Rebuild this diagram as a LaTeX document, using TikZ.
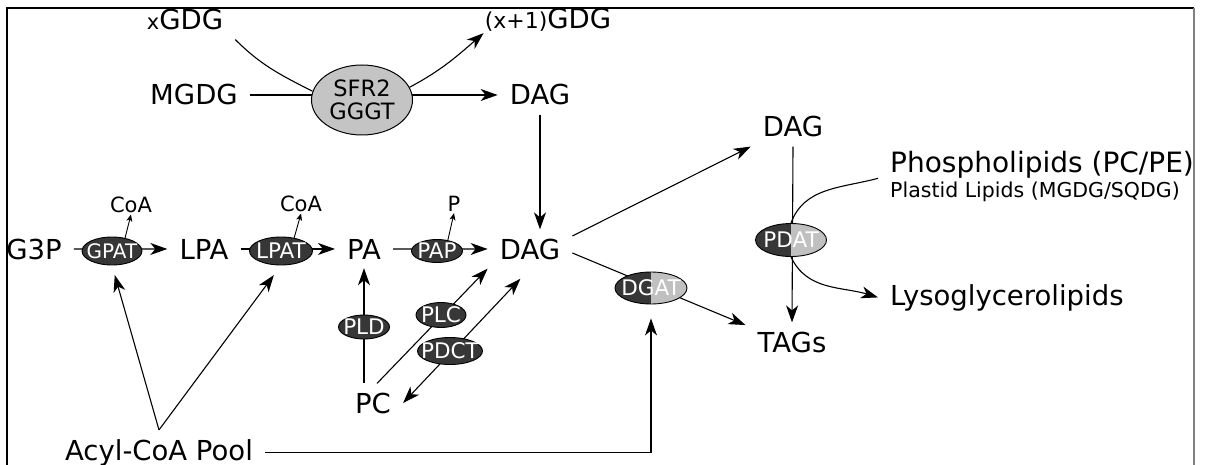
\documentclass[tikz,border=0pt]{standalone}
\usepackage{fontspec}
\setmainfont{DejaVu Sans}
\usetikzlibrary{shapes.geometric, arrows.meta, calc, backgrounds}
\definecolor{enzdark}{RGB}{55,55,55}
\definecolor{enzlight}{RGB}{192,192,192}
\definecolor{sfrgray}{RGB}{196,196,196}
\newcommand{\enzname}[1]{\makebox[0pt]{#1}}
\tikzset{
	chem/.style = {inner xsep=12pt, inner ysep=9pt, anchor=base, font=\fontsize{27.5}{33}\selectfont},
	cofac/.style = {inner sep=2pt, anchor=base, font=\fontsize{21}{24}\selectfont},
	enzyme/.style = {ellipse, draw=black, fill=enzdark, text=white, inner sep=0pt, line width=0.9pt, font=\fontsize{21.5}{24}\selectfont},
	halfenzyme/.style = {enzyme, fill=enzlight, path picture={\fill[enzdark] (path picture bounding box.south west) rectangle (path picture bounding box.north);}},
	transferase/.style = {ellipse, draw=black, fill=sfrgray, inner sep=0pt, line width=1pt, align=center, minimum width=101pt, minimum height=70pt, font=\fontsize{22.5}{23}\selectfont}
}

\begin{document}
\begin{tikzpicture}[x=1pt, y=1pt,
		conn/.style = {line width=1.1pt},
		arr/.style = {conn, -{Stealth[length=17pt, width=12pt, inset=5pt]}},
		darr/.style = {conn, {Stealth[length=17pt, width=12pt, inset=5pt]}-{Stealth[length=17pt, width=12pt, inset=5pt]}},
		sarr/.style = {line width=0.9pt, -{Stealth[length=7pt, width=6pt, inset=2pt]}}
	]
	\useasboundingbox (0,0) rectangle (1206,-465);
	\draw [line width=1.2pt] (7,-465) -- (7,-8) -- (1194,-8);
	\draw [line width=1.2pt, gray] (1194,-8) -- (1194,-465);

	\node [chem] (xgdg) at (185,-30) {{\fontsize{21}{24}\selectfont x}GDG};
	\node [chem, inner sep=1pt] (x1gdg) at (548,-29) {{\fontsize{22}{26}\selectfont (x+1)}GDG};
	\node [chem] (mgdg) at (194,-105) {MGDG};
	\node [chem] (dagtop) at (540,-105) {DAG};
	\node [chem] (g3p) at (34,-259) {G3P};
	\node [chem] (lpa) at (204,-259) {LPA};
	\node [chem] (pa) at (364,-259) {PA};
	\node [chem] (dag) at (530,-259) {DAG};
	\node [chem] (pc) at (373,-413) {PC};
	\node [chem] (acyl) at (159,-460) {Acyl-CoA Pool};
	\node [chem] (dagr) at (793,-137) {DAG};
	\node [chem] (tags) at (792,-352) {TAGs};
	\node [chem, anchor=base west, font=\fontsize{28}{33}\selectfont] (phos) at (878,-173) {Phospholipids (PC/PE)};
	\node [chem, anchor=base west, font=\fontsize{20.5}{24}\selectfont] (plastid) at (878,-197) {Plastid Lipids (MGDG/SQDG)};
	\node [chem, anchor=base west] (lyso) at (878,-305) {Lysoglycerolipids};

	\node [cofac] (coa1) at (131,-212) {CoA};
	\node [cofac] (coa2) at (301,-211) {CoA};
	\node [cofac] (pout) at (454,-211) {P};

	\node [transferase] (sfr) at (362,-100) {SFR2\\GGGT};
	\node [enzyme, minimum width=60pt, minimum height=28pt, font=\fontsize{20}{22}\selectfont] (gpat) at (112,-251) {\enzname{GPAT}};
	\node [enzyme, minimum width=63pt, minimum height=28pt] (lpat) at (281,-251) {\enzname{LPAT}};
	\node [enzyme, minimum width=51pt, minimum height=23pt] (pap) at (437,-251) {\enzname{PAP}};
	\node [enzyme, minimum width=51pt, minimum height=24pt] (pld) at (364,-327) {\enzname{PLD}};
	\node [enzyme, minimum width=50pt, minimum height=25pt] (plc) at (441,-315) {\enzname{PLC}};
	\node [enzyme, minimum width=65pt, minimum height=27pt] (pdct) at (450,-351) {\enzname{PDCT}};
	\node [halfenzyme, minimum width=72pt, minimum height=32pt] (dgat) at (651,-288) {\enzname{DGAT}};
	\node [halfenzyme, minimum width=71pt, minimum height=33pt] (pdat) at (791,-240) {\enzname{PDAT}};

	\begin{pgfonlayer}{background}
		\draw [conn] (xgdg.south east) to[out=-45, in=153] (sfr.170);
		\draw [arr] (sfr.15) to[out=28, in=-139] (x1gdg.south west);
		\draw [arr] (mgdg) -- (dagtop);
		\draw [arr] (dagtop.south) -- (dagtop.south |- dag.north);
		\draw [arr] (g3p) -- (lpa);
		\draw [arr] (lpa) -- (pa);
		\draw [arr] (pa) -- (dag);
		\draw [sarr] (gpat.45) -- (coa1.south);
		\draw [sarr] (lpat.45) -- (coa2.south);
		\draw [sarr] (pap.45) -- (pout.south);
		\draw [arr] (pc.north -| pa.south) -- (pa.south);
		\draw [arr] ([xshift=4pt]pc.north) -- (dag.south west);
		\draw [darr, shorten >=14pt] (pc.east) -- (dag.south);
		\draw [arr, shorten >=10pt] (acyl.north) -- (gpat.south);
		\draw [arr, shorten >=12pt] (acyl.north) -- (lpat.south);
		\draw [arr, shorten >=14pt] (acyl.east) -| (dgat.south);
		\draw [arr] ([yshift=13pt]dag.east) -- (dagr.south west);
		\draw [arr] ([yshift=-4pt]dag.east) -- (tags.160);
		\draw [arr] (dagr.south) -- (tags.north);
		\draw [conn] ($(phos.west)!0.5!(plastid.west)$) to[out=195, in=70] (pdat.north);
		\draw [arr] (pdat.south) to[out=-65, in=163] (lyso.west);
	\end{pgfonlayer}
\end{tikzpicture}
\end{document}
